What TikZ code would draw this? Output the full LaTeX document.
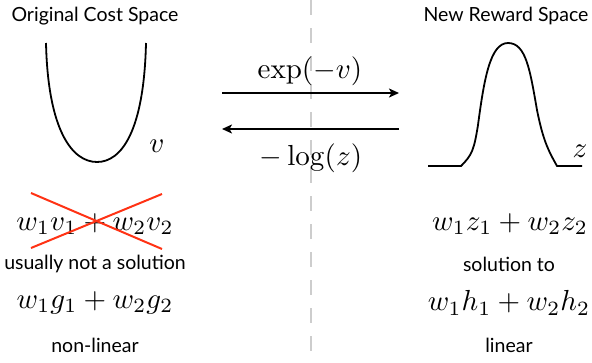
\documentclass[tikz,border=0pt]{standalone}
\usepackage[no-math]{fontspec}
\setmainfont{Lato}
\usepackage{amsmath}
\usepackage{graphicx}
\usetikzlibrary{arrows.meta}
\newcommand{\mymath}[1]{\scalebox{2.9}{$#1$}}
\begin{document}
\begin{tikzpicture}[x=1pt,y=-1pt,
  curve/.style={line width=1.8pt},
  conv/.style={line width=1.8pt,-{Stealth[length=10pt,width=9pt,inset=2.5pt]}},
  title/.style={font=\fontsize{19.5}{22}\selectfont},
  caption/.style={font=\fontsize{19.5}{22}\selectfont},
  eq/.style={inner sep=0pt},
  cross/.style={line width=2pt,color=crossred}]
\definecolor{crossred}{RGB}{255,50,20}
\definecolor{divgray}{RGB}{205,205,205}
\useasboundingbox (0,0) rectangle (592,362);
% divider
\draw[divgray,line width=2.2pt,dash pattern=on 15pt off 13pt] (311,0) -- (311,362);
% titles
\node[title] (t1) at (95,16) {Original Cost Space};
\node[title] (t2) at (506,16) {New Reward Space};
% cost curve
\draw[curve] (46,43) .. controls (48,130) and (72,162) .. (97,162)
                     .. controls (122,162) and (144,130) .. (146,43);
\node[eq] (v) at (157,146) {\mymath{v}};
% reward curve
\draw[curve] (428,166) -- (461,166)
  .. controls (472,155) and (474,150) .. (478,125)
  .. controls (484,80) and (490,43) .. (508,43)
  .. controls (526,43) and (530,70) .. (537,110)
  .. controls (543,140) and (548,150) .. (557,166) -- (582,166);
\node[eq] (z) at (580,151) {\mymath{z}};
% arrows
\coordinate (a1s) at (222,93);
\coordinate (a1e) at (399,93);
\coordinate (a2s) at (399,129);
\coordinate (a2e) at (222,129);
\draw[conv] (a1s) -- (a1e);
\draw[conv] (a2s) -- (a2e);
\node[eq] (exp) at (310,71) {\mymath{\exp(-v)}};
\node[eq] (log) at (311,158) {\mymath{-\log(z)}};
% left bottom
\node[eq] (lv) at (95,224) {\mymath{w_1v_1+w_2v_2}};
\coordinate (c1) at (31,193);
\coordinate (c2) at (162,249);
\coordinate (c3) at (31,248);
\coordinate (c4) at (162,194);
\draw[cross] (c1) -- (c2);
\draw[cross] (c3) -- (c4);
\node[caption] (uns) at (95,264) {usually not a solution};
\node[eq] (lg) at (95,303) {\mymath{w_1g_1+w_2g_2}};
\node[caption] (nl) at (95,345) {non-linear};
% right bottom
\node[eq] (rz) at (510,224) {\mymath{w_1z_1+w_2z_2}};
\node[caption] (sol) at (509,264) {solution to};
\node[eq] (rh) at (509,303) {\mymath{w_1h_1+w_2h_2}};
\node[caption] (lin) at (509,345) {linear};
\end{tikzpicture}
\end{document}
